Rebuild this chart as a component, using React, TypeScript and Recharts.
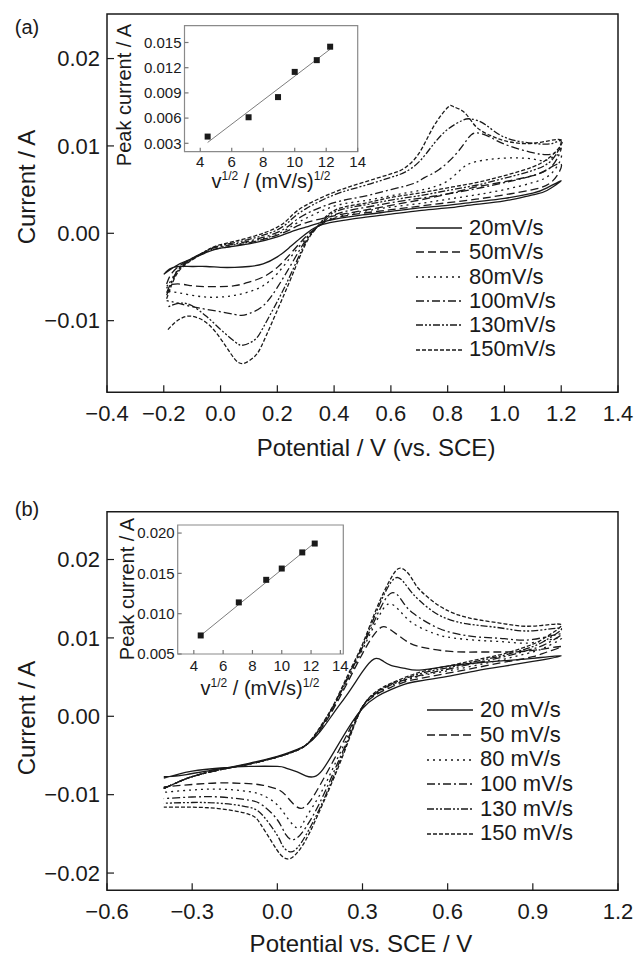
import React from 'react';
import { LineChart, Line, XAxis, YAxis, ReferenceArea, Legend, ScatterChart, Scatter } from 'recharts';

type P = [number, number];

// ---------- Panel (a) data: CV loops (potential V, current A) ----------
const a20: P[] = [[-0.2,-0.0047],[-0.15,-0.0036],[-0.1,-0.0029],[-0.05,-0.0022],[0,-0.0017],[0.1,-0.0012],[0.2,-0.0004],[0.25,0.0002],[0.3,0.0007],[0.35,0.0012],[0.4,0.0016],[0.5,0.0021],[0.6,0.0025],[0.7,0.0029],[0.8,0.0032],[0.9,0.0036],[1.0,0.004],[1.1,0.0046],[1.15,0.0052],[1.2,0.006],
[1.15,0.0049],[1.1,0.0044],[1.0,0.0037],[0.9,0.0033],[0.8,0.0029],[0.7,0.0026],[0.6,0.0022],[0.5,0.0018],[0.4,0.0013],[0.35,0.0009],[0.32,0.0004],[0.28,-0.0006],[0.24,-0.0017],[0.2,-0.0027],[0.15,-0.0035],[0.1,-0.0038],[0.05,-0.0039],[0,-0.0039],[-0.05,-0.0038],[-0.1,-0.0038],[-0.15,-0.0038],[-0.18,-0.0041],[-0.2,-0.0047]];
const a50: P[] = [[-0.19,-0.0058],[-0.17,-0.0045],[-0.12,-0.0032],[-0.05,-0.0021],[0,-0.0017],[0.1,-0.0011],[0.2,-0.0002],[0.25,0.0005],[0.3,0.0012],[0.4,0.002],[0.5,0.0026],[0.6,0.0032],[0.7,0.0038],[0.8,0.0045],[0.9,0.0053],[1.0,0.0059],[1.1,0.0066],[1.15,0.0073],[1.2,0.0079],
[1.17,0.006],[1.1,0.005],[1.0,0.0044],[0.9,0.0039],[0.8,0.0035],[0.7,0.0031],[0.6,0.0027],[0.5,0.0023],[0.4,0.0017],[0.34,0.0007],[0.3,-0.0004],[0.25,-0.0022],[0.2,-0.0039],[0.15,-0.005],[0.1,-0.0056],[0.05,-0.006],[0,-0.0061],[-0.05,-0.0061],[-0.1,-0.006],[-0.15,-0.0058],[-0.19,-0.006]];
const a80: P[] = [[-0.19,-0.0063],[-0.16,-0.0046],[-0.12,-0.0033],[-0.05,-0.0021],[0,-0.0016],[0.1,-0.001],[0.2,-0.0001],[0.25,0.0008],[0.3,0.0017],[0.4,0.0031],[0.5,0.0037],[0.6,0.0043],[0.7,0.0049],[0.75,0.0053],[0.8,0.006],[0.85,0.0074],[0.9,0.0082],[1.0,0.0086],[1.1,0.0085],[1.15,0.0084],[1.2,0.009],
[1.17,0.007],[1.1,0.0058],[1.0,0.005],[0.9,0.0044],[0.8,0.0039],[0.7,0.0034],[0.6,0.003],[0.5,0.0025],[0.4,0.0018],[0.34,0.0007],[0.3,-0.0006],[0.25,-0.0026],[0.2,-0.0046],[0.15,-0.006],[0.1,-0.0067],[0.05,-0.0071],[0,-0.0073],[-0.05,-0.0073],[-0.1,-0.0071],[-0.15,-0.0068],[-0.19,-0.0066]];
const a100: P[] = [[-0.19,-0.0068],[-0.16,-0.0047],[-0.12,-0.0033],[-0.05,-0.002],[0,-0.0015],[0.1,-0.0009],[0.2,0.0001],[0.25,0.0011],[0.3,0.0022],[0.4,0.0035],[0.5,0.0042],[0.6,0.005],[0.68,0.0057],[0.72,0.0064],[0.77,0.0073],[0.83,0.0091],[0.87,0.0108],[0.9,0.0115],[0.95,0.011],[1.0,0.0102],[1.09,0.0093],[1.17,0.0091],[1.2,0.0097],
[1.17,0.0078],[1.1,0.0066],[1.0,0.0058],[0.9,0.0051],[0.8,0.0045],[0.7,0.004],[0.6,0.0035],[0.5,0.0029],[0.4,0.0021],[0.34,0.0007],[0.3,-0.0008],[0.25,-0.0035],[0.2,-0.0062],[0.15,-0.0083],[0.1,-0.0092],[0.07,-0.0094],[0.02,-0.0091],[-0.05,-0.0087],[-0.1,-0.0084],[-0.15,-0.008],[-0.19,-0.0077]];
const a130: P[] = [[-0.19,-0.0071],[-0.16,-0.0048],[-0.12,-0.0034],[-0.05,-0.002],[0,-0.0014],[0.1,-0.0007],[0.2,0.0004],[0.25,0.0016],[0.3,0.0028],[0.4,0.0044],[0.5,0.0054],[0.6,0.0064],[0.65,0.007],[0.7,0.0082],[0.75,0.0102],[0.8,0.0119],[0.85,0.0129],[0.88,0.0131],[0.93,0.0125],[1.0,0.011],[1.1,0.0103],[1.17,0.0103],[1.2,0.0105],
[1.17,0.0085],[1.1,0.0072],[1.0,0.0063],[0.9,0.0055],[0.8,0.0049],[0.7,0.0043],[0.6,0.0038],[0.5,0.0032],[0.4,0.0024],[0.34,0.0007],[0.3,-0.001],[0.25,-0.0045],[0.2,-0.0078],[0.15,-0.0108],[0.12,-0.0122],[0.08,-0.0128],[0.05,-0.0124],[0,-0.011],[-0.05,-0.0095],[-0.1,-0.0083],[-0.13,-0.008],[-0.16,-0.0081],[-0.19,-0.0085]];
const a150: P[] = [[-0.19,-0.0075],[-0.16,-0.005],[-0.12,-0.0035],[-0.05,-0.002],[0,-0.0013],[0.1,-0.0005],[0.2,0.0007],[0.25,0.002],[0.3,0.0032],[0.4,0.0047],[0.5,0.0058],[0.6,0.0068],[0.65,0.0075],[0.7,0.0092],[0.75,0.0122],[0.8,0.0144],[0.82,0.0145],[0.86,0.0138],[0.9,0.0122],[0.95,0.0112],[1.0,0.0106],[1.1,0.0103],[1.2,0.0107],
[1.17,0.009],[1.1,0.0076],[1.0,0.0066],[0.9,0.0058],[0.8,0.0052],[0.7,0.0046],[0.6,0.0041],[0.5,0.0034],[0.4,0.0026],[0.34,0.0007],[0.3,-0.0012],[0.25,-0.005],[0.2,-0.0088],[0.15,-0.0125],[0.12,-0.0141],[0.08,-0.0149],[0.05,-0.0144],[0.02,-0.013],[-0.02,-0.0112],[-0.06,-0.01],[-0.1,-0.0095],[-0.13,-0.0096],[-0.16,-0.0102],[-0.19,-0.0112]];

// ---------- Panel (b) data ----------
const b20: P[] = [[-0.4,-0.0077],[-0.35,-0.0076],[-0.3,-0.0073],[-0.2,-0.0067],[-0.1,-0.006],[0,-0.0051],[0.05,-0.0045],[0.1,-0.0037],[0.15,-0.002],[0.2,0.0005],[0.25,0.003],[0.3,0.0057],[0.34,0.0073],[0.37,0.0071],[0.4,0.0065],[0.45,0.0061],[0.5,0.0059],[0.6,0.0064],[0.7,0.0068],[0.8,0.0071],[0.9,0.0074],[1.0,0.0077],
[0.9,0.007],[0.8,0.0064],[0.7,0.0058],[0.6,0.0051],[0.5,0.0045],[0.45,0.0041],[0.4,0.0034],[0.35,0.0025],[0.3,0.001],[0.25,-0.0015],[0.2,-0.0045],[0.16,-0.0068],[0.13,-0.0077],[0.1,-0.0076],[0.07,-0.0071],[0.03,-0.0066],[0,-0.0064],[-0.1,-0.0064],[-0.2,-0.0066],[-0.3,-0.007],[-0.35,-0.0074],[-0.4,-0.0079]];
const b50: P[] = [[-0.4,-0.0092],[-0.35,-0.0084],[-0.3,-0.0077],[-0.2,-0.0068],[-0.1,-0.0061],[0,-0.0052],[0.05,-0.0046],[0.1,-0.0037],[0.15,-0.0018],[0.2,0.0011],[0.25,0.0045],[0.3,0.008],[0.34,0.0104],[0.37,0.0114],[0.4,0.011],[0.45,0.0097],[0.5,0.0089],[0.6,0.0083],[0.7,0.0082],[0.8,0.0082],[0.9,0.0084],[1.0,0.0089],
[0.95,0.0082],[0.9,0.0076],[0.8,0.0069],[0.7,0.0062],[0.6,0.0055],[0.5,0.0048],[0.45,0.0044],[0.4,0.0037],[0.35,0.0028],[0.3,0.0012],[0.25,-0.002],[0.2,-0.0055],[0.15,-0.0088],[0.12,-0.0106],[0.09,-0.0117],[0.06,-0.0113],[0.03,-0.0101],[0,-0.0093],[-0.05,-0.0088],[-0.1,-0.0086],[-0.2,-0.0085],[-0.3,-0.0087],[-0.4,-0.009]];
const b80: P[] = [[-0.4,-0.0092],[-0.35,-0.0084],[-0.3,-0.0077],[-0.2,-0.0068],[-0.1,-0.0061],[0,-0.0052],[0.05,-0.0046],[0.1,-0.0037],[0.15,-0.0017],[0.2,0.0013],[0.25,0.0048],[0.3,0.0085],[0.35,0.0122],[0.39,0.0143],[0.43,0.0135],[0.48,0.0118],[0.55,0.0106],[0.6,0.0101],[0.7,0.0097],[0.8,0.0095],[0.9,0.0094],[1.0,0.01],
[0.95,0.0089],[0.9,0.0082],[0.8,0.0073],[0.7,0.0065],[0.6,0.0058],[0.5,0.0051],[0.4,0.0039],[0.35,0.0029],[0.3,0.0012],[0.25,-0.0024],[0.2,-0.0063],[0.15,-0.01],[0.1,-0.013],[0.075,-0.0143],[0.04,-0.0132],[0,-0.0113],[-0.05,-0.0101],[-0.1,-0.0096],[-0.2,-0.0093],[-0.3,-0.0094],[-0.4,-0.0097]];
const b100: P[] = [[-0.4,-0.0092],[-0.35,-0.0084],[-0.3,-0.0077],[-0.2,-0.0068],[-0.1,-0.0061],[0,-0.0052],[0.05,-0.0046],[0.1,-0.0037],[0.15,-0.0016],[0.2,0.0014],[0.25,0.005],[0.3,0.0088],[0.35,0.0128],[0.4,0.0157],[0.44,0.0147],[0.48,0.0131],[0.57,0.0112],[0.65,0.0104],[0.71,0.0101],[0.8,0.0099],[0.9,0.0098],[1.0,0.0105],
[0.95,0.0093],[0.9,0.0086],[0.8,0.0076],[0.7,0.0068],[0.6,0.006],[0.5,0.0052],[0.4,0.004],[0.35,0.003],[0.3,0.0012],[0.25,-0.0028],[0.2,-0.007],[0.15,-0.011],[0.1,-0.0142],[0.06,-0.0157],[0.03,-0.0151],[0,-0.0132],[-0.05,-0.0114],[-0.1,-0.0107],[-0.2,-0.0103],[-0.3,-0.0103],[-0.4,-0.0105]];
const b130: P[] = [[-0.4,-0.0092],[-0.35,-0.0084],[-0.3,-0.0077],[-0.2,-0.0068],[-0.1,-0.0061],[0,-0.0052],[0.05,-0.0046],[0.1,-0.0037],[0.15,-0.0015],[0.2,0.0015],[0.25,0.0052],[0.3,0.009],[0.35,0.0134],[0.39,0.0165],[0.425,0.0177],[0.46,0.0164],[0.5,0.0148],[0.57,0.0129],[0.65,0.0119],[0.71,0.0116],[0.8,0.0112],[0.9,0.0109],[1.0,0.0112],
[0.95,0.0098],[0.9,0.0089],[0.8,0.0078],[0.7,0.007],[0.6,0.0062],[0.5,0.0054],[0.4,0.0041],[0.35,0.0031],[0.3,0.0012],[0.25,-0.003],[0.2,-0.0075],[0.15,-0.0117],[0.1,-0.0152],[0.07,-0.0168],[0.045,-0.0173],[0.02,-0.0166],[0,-0.0152],[-0.05,-0.0127],[-0.1,-0.0116],[-0.2,-0.0111],[-0.3,-0.011],[-0.4,-0.0111]];
const b150: P[] = [[-0.4,-0.0092],[-0.35,-0.0084],[-0.3,-0.0077],[-0.2,-0.0068],[-0.1,-0.0061],[0,-0.0052],[0.05,-0.0046],[0.1,-0.0037],[0.15,-0.0014],[0.2,0.0016],[0.25,0.0054],[0.3,0.0092],[0.35,0.0138],[0.4,0.0176],[0.435,0.0189],[0.47,0.0178],[0.5,0.0162],[0.57,0.0141],[0.64,0.0129],[0.71,0.0123],[0.8,0.0118],[0.9,0.0115],[1.0,0.0117],
[0.95,0.0102],[0.9,0.0092],[0.8,0.008],[0.7,0.0072],[0.6,0.0064],[0.5,0.0056],[0.4,0.0042],[0.35,0.0032],[0.3,0.0012],[0.25,-0.0032],[0.2,-0.0078],[0.15,-0.012],[0.1,-0.0158],[0.06,-0.0178],[0.035,-0.0182],[0.01,-0.0176],[-0.02,-0.016],[-0.06,-0.0137],[-0.1,-0.0125],[-0.2,-0.0118],[-0.3,-0.0116],[-0.4,-0.0116]];

// ---------- Insets: peak current vs sqrt(scan rate) ----------
const insetX = [4.47, 7.07, 8.94, 10.0, 11.4, 12.25];
const insetYA = [0.0038, 0.0061, 0.0085, 0.0115, 0.0129, 0.0145];
const insetYB = [0.0073, 0.0114, 0.0142, 0.0156, 0.0176, 0.0187];
const fitA: P[] = [[4.47, 0.0031], [12.25, 0.0142]];
const fitB: P[] = [[4.47, 0.0073], [12.25, 0.0188]];

// ---------- labels & ticks ----------
const namesA = ['20mV/s', '50mV/s', '80mV/s', '100mV/s', '130mV/s', '150mV/s'];
const namesB = ['20 mV/s', '50 mV/s', '80 mV/s', '100 mV/s', '130 mV/s', '150 mV/s'];
const xTicksA = [-0.4, -0.2, 0, 0.2, 0.4, 0.6, 0.8, 1.0, 1.2, 1.4];
const yTicksA = [-0.01, 0, 0.01, 0.02];
const xTicksB = [-0.6, -0.3, 0, 0.3, 0.6, 0.9, 1.2];
const yTicksB = [-0.02, -0.01, 0, 0.01, 0.02];
const insetXTicks = [4, 6, 8, 10, 12, 14];
const insetYTicksA = [0.003, 0.006, 0.009, 0.012, 0.015];
const insetYTicksB = [0.005, 0.01, 0.015, 0.02];

const curvesA = [a20, a50, a80, a100, a130, a150];
const curvesB = [b20, b50, b80, b100, b130, b150];

const FONT = '"Liberation Sans", Arial, Helvetica, sans-serif';
const INK = '#1a1a1a';
const dashes = ['', '8 4', '2 4', '8 3 2 3', '7 2 2 2 2 2', '4 2'];

const toPts = (arr: P[]) => arr.map(([x, y]) => ({ x, y }));
const minus = (s: string) => s.replace('-', '\u2212');
const fmt = (d: number) => (v: number) => minus(Number(v).toFixed(d));

const makeYTick = (margin: number, len: number, size: number, f: (v: number) => string, color: string) => (props: any) => {
  const { x, y, payload } = props;
  const ax = x + margin;
  return (
    <g>
      <line x1={ax} x2={ax + len} y1={y} y2={y} stroke={color} strokeWidth={1.2} />
      <text x={x} y={y} dy="0.35em" textAnchor="end" fontSize={size} fill={INK} fontFamily={FONT}>{f(payload.value)}</text>
    </g>
  );
};
const makeXTick = (margin: number, len: number, size: number, f: (v: number) => string, color: string) => (props: any) => {
  const { x, y, payload } = props;
  const ay = y - margin;
  return (
    <g>
      <line x1={x} x2={x} y1={ay} y2={ay - len} stroke={color} strokeWidth={1.2} />
      <text x={x} y={y} dy="0.71em" textAnchor="middle" fontSize={size} fill={INK} fontFamily={FONT}>{f(payload.value)}</text>
    </g>
  );
};

const Square = (props: any) => <rect x={props.cx - 3} y={props.cy - 3} width={6} height={6} fill={INK} />;
const Empty = () => <g />;

const makeLegend = (names: string[], lineW: number, gap: number, rowH: number) => () => (
  <div style={{ fontFamily: FONT, fontSize: 22, color: INK }}>
    {names.map((n, i) => (
      <div key={n} style={{ display: 'flex', alignItems: 'center', height: rowH }}>
        <svg width={lineW} height={6} style={{ display: 'block' }}>
          <line x1={0} x2={lineW} y1={3} y2={3} stroke={INK} strokeWidth={1.5} strokeDasharray={dashes[i] || undefined} />
        </svg>
        <span style={{ marginLeft: gap, lineHeight: rowH + 'px', whiteSpace: 'nowrap' }}>{n}</span>
      </div>
    ))}
  </div>
);

const Txt = ({ x, y, size, rotate, children }: any) => (
  <div style={{ position: 'absolute', left: x, top: y, transform: `translate(-50%, -50%)${rotate ? ' rotate(-90deg)' : ''}`, fontSize: size, whiteSpace: 'nowrap', color: INK, lineHeight: 1 }}>{children}</div>
);

const InsetXLabel = () => (
  <span>v<sup style={{ fontSize: 12 }}>1/2</sup> / (mV/s)<sup style={{ fontSize: 12 }}>1/2</sup></span>
);

function CVChart({ curves, names, xDomain, xTicks, yDomain, yTicks, height, margin, legendPos, legendLineW, legendGap, rowH }: any) {
  return (
    <LineChart width={636} height={height} margin={margin}>
      <XAxis type="number" dataKey="x" domain={xDomain} ticks={xTicks} interval={0} height={1} tickSize={0} tickMargin={13}
        axisLine={false} tickLine={false} tick={makeXTick(13, 7, 22, fmt(1), INK)} allowDataOverflow />
      <YAxis type="number" dataKey="y" domain={yDomain} ticks={yTicks} interval={0} width={1} tickSize={0} tickMargin={7}
        axisLine={false} tickLine={false} tick={makeYTick(7, 7, 22, fmt(2), INK)} allowDataOverflow />
      <ReferenceArea x1={xDomain[0]} x2={xDomain[1]} y1={yDomain[0]} y2={yDomain[1]} fill="none" stroke={INK} strokeWidth={1.5} ifOverflow="visible" />
      {curves.map((c: P[], i: number) => (
        <Line key={names[i]} name={names[i]} data={toPts(c)} dataKey="y" type="natural" dot={false} stroke={INK}
          strokeWidth={1.3} strokeDasharray={dashes[i] || undefined} isAnimationActive={false} />
      ))}
      <Legend layout="vertical" align="center" verticalAlign="middle" content={makeLegend(names, legendLineW, legendGap, rowH)}
        wrapperStyle={{ left: legendPos[0], top: legendPos[1], width: 200, height: rowH * 6 }} />
    </LineChart>
  );
}

function Inset({ pts, fit, xDomain, yDomain, yTicks, width, height, margin, xMargin }: any) {
  return (
    <ScatterChart width={width} height={height} margin={margin}>
      <XAxis type="number" dataKey="x" domain={xDomain} ticks={insetXTicks} interval={0} height={1} tickSize={0} tickMargin={xMargin}
        axisLine={false} tickLine={false} tick={makeXTick(xMargin, 4, 15, fmt(0), '#777')} allowDataOverflow />
      <YAxis type="number" dataKey="y" domain={yDomain} ticks={yTicks} interval={0} width={1} tickSize={0} tickMargin={3}
        axisLine={false} tickLine={false} tick={makeYTick(3, 4, 15, fmt(3), '#777')} allowDataOverflow />
      <ReferenceArea x1={xDomain[0]} x2={xDomain[1]} y1={yDomain[0]} y2={yDomain[1]} fill="#fff" stroke="#8a8a8a" strokeWidth={1.2} ifOverflow="visible" />
      <Scatter data={toPts(fit)} line={{ stroke: '#7d7d7d', strokeWidth: 1 }} shape={Empty} isAnimationActive={false} />
      <Scatter data={pts} shape={Square} fill={INK} isAnimationActive={false} />
    </ScatterChart>
  );
}

export default function App() {
  const ptsA = insetX.map((x, i) => ({ x, y: insetYA[i] }));
  const ptsB = insetX.map((x, i) => ({ x, y: insetYB[i] }));
  return (
    <div style={{ position: 'absolute', left: 0, top: 0, width: 636, height: 957, background: '#fff', fontFamily: FONT, overflow: 'hidden' }}>
      {/* Panel (a) */}
      <div style={{ position: 'absolute', left: 0, top: 0 }}>
        <CVChart curves={curvesA} names={namesA} xDomain={[-0.4, 1.4]} xTicks={xTicksA} yDomain={[-0.0182, 0.0251]} yTicks={yTicksA}
          height={478} margin={{ top: 14, right: 18, bottom: 84.7, left: 106 }} legendPos={[416, 216]} legendLineW={46} legendGap={7} rowH={24.3} />
      </div>
      <div style={{ position: 'absolute', left: 120, top: 10 }}>
        <Inset pts={ptsA} fit={fitA} xDomain={[3, 14]} yDomain={[0.002, 0.017]} yTicks={insetYTicksA} width={250} height={185}
          margin={{ top: 15.7, right: 12.3, bottom: 42.3, left: 63.5 }} xMargin={5} />
      </div>
      <Txt x={27} y={27} size={20}>(a)</Txt>
      <Txt x={27} y={187} size={24} rotate>Current / A</Txt>
      <Txt x={376} y={448} size={24}>Potential / V (vs. SCE)</Txt>
      <Txt x={124} y={95} size={20} rotate>Peak current / A</Txt>
      <Txt x={271} y={180} size={20}><InsetXLabel /></Txt>

      {/* Panel (b) */}
      <div style={{ position: 'absolute', left: 0, top: 478 }}>
        <CVChart curves={curvesB} names={namesB} xDomain={[-0.6, 1.2]} xTicks={xTicksB} yDomain={[-0.0222, 0.0261]} yTicks={yTicksB}
          height={479} margin={{ top: 33.7, right: 18, bottom: 65.7, left: 106 }} legendPos={[427, 220]} legendLineW={46} legendGap={7} rowH={24.7} />
      </div>
      <div style={{ position: 'absolute', left: 110, top: 505 }}>
        <Inset pts={ptsB} fit={fitB} xDomain={[2.9, 14.2]} yDomain={[0.005, 0.021]} yTicks={insetYTicksB} width={245} height={175}
          margin={{ top: 20, right: 11.7, bottom: 25, left: 66.7 }} xMargin={6} />
      </div>
      <Txt x={27} y={509} size={20}>(b)</Txt>
      <Txt x={27} y={718} size={24} rotate>Current / A</Txt>
      <Txt x={361} y={944} size={24}>Potential vs. SCE / V</Txt>
      <Txt x={127} y={589} size={20} rotate>Peak current / A</Txt>
      <Txt x={260} y={687} size={20}><InsetXLabel /></Txt>
    </div>
  );
}
